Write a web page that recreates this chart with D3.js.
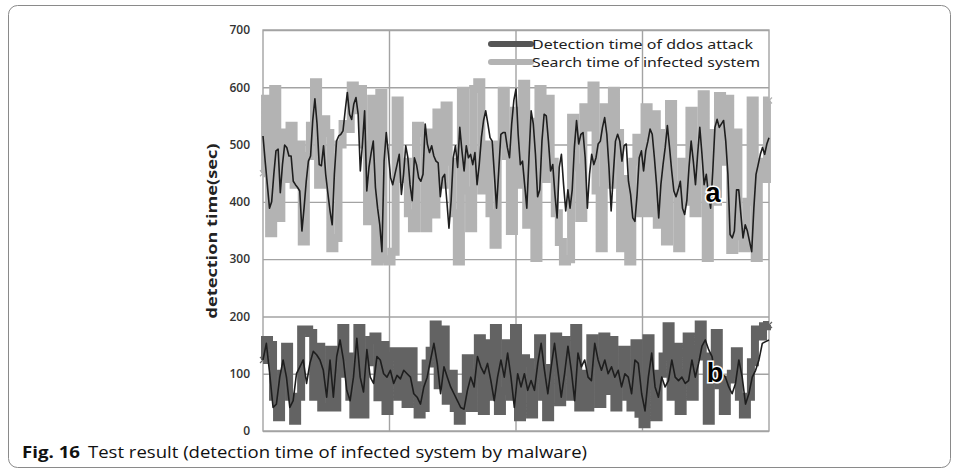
<!DOCTYPE html>
<html>
<head>
<meta charset="utf-8">
<script src="https://cdn.jsdelivr.net/npm/d3@7"></script>
<style>
  body { margin: 0; background: #fff; }
  svg text { font-family: "Liberation Sans", Arial, sans-serif; }
</style>
</head>
<body>
<svg id="svg" width="957" height="473"></svg>
<script>
// y axis ticks
const yTicks = [0, 100, 200, 300, 400, 500, 600, 700];

const legendLabels = ["Detection time of ddos attack", "Search time of infected system"];

// thick light gray band (search time of infected system)
const searchTime = [
  450, 580, 345, 597, 372, 521, 440, 533, 430, 500, 331, 480, 533, 609, 430, 544, 520, 319, 337, 500, 536, 527, 603, 560, 597, 500, 366, 580, 296, 590, 300, 296,
  313, 577, 440, 470, 380, 354, 533, 520, 354, 521, 378, 556, 430, 568, 470, 380, 296, 594, 420, 354, 597, 609, 420, 500, 380, 325, 500, 594, 480, 349, 559,
  430, 606, 360, 540, 302, 597, 440, 580, 470, 380, 330, 296, 300, 547, 460, 372, 565, 530, 603, 420, 319, 565, 430, 594, 520, 319, 440, 296, 470, 512, 380,
  565, 380, 553, 360, 520, 331, 571, 430, 319, 470, 400, 559, 380, 480, 588, 302, 520, 400, 585, 470, 580, 316, 521, 340, 319, 400, 577, 302, 470, 440, 577
];

// thin black line over the search band
const searchTrend = [
  515, 471, 430, 389, 400, 448, 489, 492, 416, 465, 499, 495, 480, 480, 436, 430, 425, 419, 349, 390, 436, 471, 480, 542, 580, 536, 465, 463, 498, 448, 415, 384, 360, 448, 506, 515, 518, 524, 559, 591, 553, 544, 571, 582, 553, 454, 501, 559, 419, 460, 485, 506, 425,
  389, 360, 313, 471, 521, 483, 442, 430, 448, 465, 483, 413, 448, 498, 477, 430, 402, 477, 465, 442, 436, 448, 536, 501, 486, 498, 480, 471, 468, 409, 442, 448, 402, 354, 402, 477, 498, 460, 530, 489, 454, 498, 477, 483, 465, 486, 430, 465, 512, 542, 559, 536, 512, 506, 448, 389,
  454, 518, 521, 521, 495, 477, 536, 577, 597, 518, 465, 471, 430, 389, 477, 559, 536, 483, 409, 421, 506, 553, 550, 506, 454, 465, 413, 372, 460, 483, 430, 384, 421, 389, 421, 495, 542, 501, 518, 521, 477, 389, 448, 483, 465, 477, 501, 506, 530, 547, 518, 460, 384, 448, 506, 518, 506, 471, 498, 501, 436,
  413, 372, 366, 413, 477, 489, 454, 489, 506, 527, 518, 477, 430, 372, 430, 465, 495, 533, 495, 454, 419, 409, 421, 436, 389, 378, 402, 460, 506, 471, 430, 483, 530, 483, 430, 448, 413, 389, 454, 530, 544, 530, 536, 542, 506, 448, 343, 337, 349, 421, 421, 378, 337, 360, 349, 331, 313, 389, 448, 465, 483, 495, 483, 501, 512
];

// thick dark gray band (detection time of ddos attack)
const detectTime = [
  124, 159, 150, 60, 24, 100, 147, 60, 18, 60, 177, 177, 171, 60, 147, 41, 41, 142, 41, 100, 180, 130, 60, 29, 180, 29, 120, 159, 165, 59, 150, 35,
  130, 139, 60, 139, 47, 139, 80, 29, 40, 118, 140, 186, 80, 177, 53, 100, 40, 18, 60, 127, 40, 100, 162, 35, 153, 60, 180, 35, 70, 153, 60, 180,
  24, 127, 120, 29, 100, 162, 60, 24, 110, 165, 50, 159, 130, 60, 180, 41, 100, 41, 162, 120, 47, 165, 70, 159, 41, 100, 142, 60, 41, 153, 30,
  12, 162, 80, 24, 100, 130, 183, 60, 147, 35, 100, 165, 60, 140, 186, 130, 18, 120, 171, 80, 35, 90, 100, 139, 60, 29, 60, 120, 177, 165, 183, 185
];

// thin black line over the detection band
const detectTrend = [
  124, 153, 100, 41, 47, 94, 124, 94, 41, 53, 100, 112, 124, 83, 118, 139, 133, 124, 106, 59, 124, 59, 130, 159, 124, 71, 53, 94, 162, 94, 68, 142, 94, 83, 130, 124, 100, 94, 106, 83, 97, 91, 106, 100, 94, 65, 59, 47, 77,
  94, 124, 153, 118, 65, 112, 94, 77, 65, 53, 41, 38, 71, 94, 77, 130, 112, 100, 118, 88, 53, 94, 124, 94, 136, 94, 41, 100, 77, 100, 71, 88, 71, 118, 153, 106, 65, 112, 153, 106, 59, 100, 148, 106, 53, 136, 112, 124, 94, 88, 153, 124,
  106, 124, 100, 112, 94, 106, 77, 100, 94, 65, 124, 118, 65, 35, 94, 136, 77, 59, 94, 77, 88, 124, 94, 88, 94, 83, 88, 124, 94, 118, 148, 159, 142, 130, 94, 88, 100, 94, 77, 65, 83, 124, 94, 47, 65, 94, 106, 124, 153, 156, 159
];

const svg = d3.select("#svg");
const plot = { left: 263, right: 769, top: 30, bottom: 431 };
const gridColor = "#a3a3a3";

// figure box
svg.append("rect")
  .attr("x", 8.5).attr("y", 5.5)
  .attr("width", 942).attr("height", 462)
  .attr("rx", 9)
  .attr("fill", "none")
  .attr("stroke", "#8a8a8a");

const y = d3.scaleLinear().domain([0, 700]).range([plot.bottom, plot.top]);
// the x axis has no labels, it is split in 4 columns
const xCol = d3.scaleLinear().domain([0, 4]).range([plot.left, plot.right]);

// horizontal grid + tick labels
const yAxis = svg.append("g")
  .attr("transform", `translate(${plot.left},0)`)
  .call(d3.axisLeft(y).tickValues(yTicks).tickSize(-(plot.right - plot.left)).tickPadding(13));
yAxis.select(".domain").remove();
yAxis.selectAll(".tick line").attr("stroke", gridColor).attr("stroke-width", 1.4);
yAxis.selectAll(".tick text")
  .attr("fill", "#333")
  .style("font-size", "12px")
  .style("font-family", "'Open Sans', sans-serif")
  .style("font-weight", "600");

// vertical grid
svg.append("g").selectAll("line")
  .data([1, 2, 3])
  .join("line")
  .attr("x1", d => xCol(d)).attr("x2", d => xCol(d))
  .attr("y1", plot.top).attr("y2", plot.bottom)
  .attr("stroke", gridColor).attr("stroke-width", 1.4);

svg.append("rect")
  .attr("x", plot.left).attr("y", plot.top)
  .attr("width", plot.right - plot.left).attr("height", plot.bottom - plot.top)
  .attr("fill", "none").attr("stroke", gridColor).attr("stroke-width", 1.4);

// one x scale per series, all over the full plot width
function drawSeries(values, color, width, thick) {
  const x = d3.scaleLinear().domain([0, values.length - 1]).range([plot.left, plot.right]);
  const line = d3.line()
    .x((d, i) => x(i))
    .y(d => y(d))
    .curve(thick ? d3.curveStep : d3.curveLinear);
  svg.append("path")
    .datum(values)
    .attr("d", line)
    .attr("fill", "none")
    .attr("stroke", color)
    .attr("stroke-width", width)
    .attr("stroke-linejoin", thick ? "miter" : "round");
  if (thick) {
    // little x markers at the ends
    const ends = [0, values.length - 1];
    svg.append("g").selectAll("path")
      .data(ends)
      .join("path")
      .attr("d", i => {
        const cx = x(i), cy = y(values[i]);
        return `M${cx - 3},${cy - 3}L${cx + 3},${cy + 3}M${cx - 3},${cy + 3}L${cx + 3},${cy - 3}`;
      })
      .attr("stroke", color).attr("stroke-width", 1.2);
  }
}

drawSeries(searchTime, "#b3b3b3", 8, true);
drawSeries(searchTrend, "#1e1e1e", 1.6, false);
drawSeries(detectTime, "#636363", 8, true);
drawSeries(detectTrend, "#1e1e1e", 1.6, false);

// legend
const legendColors = ["#555", "#b3b3b3"];
const legend = svg.append("g").selectAll("g")
  .data(legendLabels)
  .join("g")
  .attr("transform", (d, i) => `translate(491,${44 + i * 18})`);
legend.append("line")
  .attr("x1", 0).attr("x2", 40)
  .attr("stroke", (d, i) => legendColors[i])
  .attr("stroke-width", 6)
  .attr("stroke-linecap", "round");
legend.append("text")
  .attr("x", 41).attr("y", 5)
  .attr("fill", "#222")
  .style("font-size", "13px")
  .style("font-family", "'Noto Sans', sans-serif")
  .attr("textLength", (d, i) => i === 0 ? 221 : 228)
  .attr("lengthAdjust", "spacingAndGlyphs")
  .text(d => d);

// y title
svg.append("text")
  .attr("transform", "translate(217,231) rotate(-90)")
  .attr("text-anchor", "middle")
  .attr("fill", "#222")
  .style("font-size", "14px")
  .style("font-weight", "bold")
  .style("font-family", "'Open Sans', sans-serif")
  .attr("textLength", 175)
  .attr("lengthAdjust", "spacingAndGlyphs")
  .text("detection time(sec)");

// a / b labels with white outline
svg.append("g").selectAll("text")
  .data([{ t: "a", x: 713, y: 202 }, { t: "b", x: 715, y: 382 }])
  .join("text")
  .attr("x", d => d.x).attr("y", d => d.y)
  .attr("text-anchor", "middle")
  .style("font-size", "27px")
  .style("font-weight", "bold")
  .attr("fill", "#000")
  .attr("stroke", "#fff")
  .attr("stroke-width", 3)
  .attr("paint-order", "stroke")
  .text(d => d.t);

// caption
svg.append("text")
  .attr("x", 22).attr("y", 458)
  .style("font-size", "15.5px")
  .style("font-weight", "bold")
  .style("font-family", "'Open Sans', sans-serif")
  .attr("fill", "#111")
  .attr("textLength", 58)
  .attr("lengthAdjust", "spacingAndGlyphs")
  .text("Fig. 16");
svg.append("text")
  .attr("x", 88).attr("y", 458)
  .style("font-size", "15.5px")
  .style("font-family", "'Open Sans', sans-serif")
  .attr("fill", "#111")
  .attr("textLength", 499)
  .attr("lengthAdjust", "spacingAndGlyphs")
  .text("Test result (detection time of infected system by malware)");
</script>
</body>
</html>
